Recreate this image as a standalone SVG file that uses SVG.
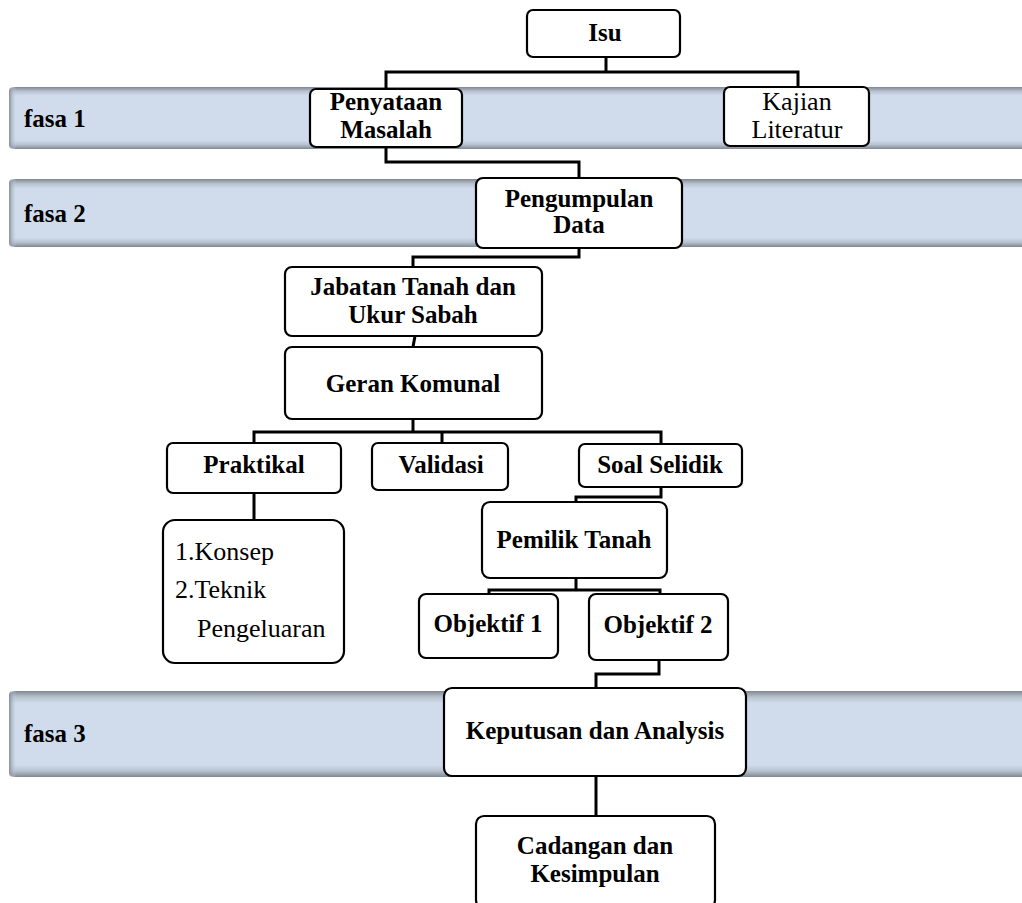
<svg xmlns="http://www.w3.org/2000/svg" width="1022" height="903" viewBox="0 0 1022 903">
<defs>
<linearGradient id="bandV" x1="0" y1="0" x2="0" y2="1">
<stop offset="0" stop-color="#7f8792"/>
<stop offset="0.07" stop-color="#b8c2cf"/>
<stop offset="0.14" stop-color="#d0dcec"/>
<stop offset="0.86" stop-color="#d0dcec"/>
<stop offset="0.93" stop-color="#b8c2cf"/>
<stop offset="1" stop-color="#7f8792"/>
</linearGradient>
<linearGradient id="bandH" x1="0" y1="0" x2="1" y2="0">
<stop offset="0" stop-color="#7f8792" stop-opacity="0.9"/>
<stop offset="1" stop-color="#d0dcec" stop-opacity="0"/>
</linearGradient>
<style>
.box{fill:#ffffff;stroke:#000000;stroke-width:2.2}
.conn{fill:none;stroke:#000000;stroke-width:3;stroke-linejoin:miter}
.b{font-family:"Liberation Serif","Times New Roman",serif;font-weight:bold;font-size:25px;fill:#000;text-anchor:middle}
.r{font-family:"Liberation Serif","Times New Roman",serif;font-size:26px;fill:#000}
.rc{text-anchor:middle}
.lbl{font-family:"Liberation Serif","Times New Roman",serif;font-weight:bold;font-size:25px;fill:#000}
</style>
</defs>

<g id="bands">
<g id="band1">
<rect x="9" y="87" width="1030" height="62" rx="6" fill="url(#bandV)"/>
<rect x="9" y="87" width="8" height="62" rx="4" fill="url(#bandH)"/>
<text class="lbl" x="24" y="127">fasa 1</text>
</g>
<g id="band2">
<rect x="9" y="179" width="1030" height="68" rx="6" fill="url(#bandV)"/>
<rect x="9" y="179" width="8" height="68" rx="4" fill="url(#bandH)"/>
<text class="lbl" x="24" y="222">fasa 2</text>
</g>
<g id="band3">
<rect x="9" y="691" width="1030" height="86" rx="6" fill="url(#bandV)"/>
<rect x="9" y="691" width="8" height="86" rx="4" fill="url(#bandH)"/>
<text class="lbl" x="24" y="742">fasa 3</text>
</g>
</g>

<g id="connectors">
<polyline class="conn" points="606,57 606,72"/>
<polyline class="conn" points="386,89 386,72 798,72 798,87"/>
<polyline class="conn" points="386,147 386,162 579,162 579,178"/>
<polyline class="conn" points="579,248 579,257 413,257 413,267"/>
<polyline class="conn" points="415,336 413,347"/>
<polyline class="conn" points="413,419 413,432"/>
<polyline class="conn" points="254,443 254,432 661,432 661,444"/>
<polyline class="conn" points="442,432 442,443"/>
<polyline class="conn" points="254,493 254,520"/>
<polyline class="conn" points="661,487 661,497 576,497 576,502"/>
<polyline class="conn" points="576,578 576,590"/>
<polyline class="conn" points="489,594 489,590 660,590 660,594"/>
<polyline class="conn" points="659,660 659,674 596,674 596,688"/>
<polyline class="conn" points="596,776 596,816"/>
</g>

<g id="isu">
<rect class="box" x="527" y="10" width="153" height="47" rx="6"/>
<text class="b" x="605" y="41">Isu</text>
</g>
<g id="penyataan">
<rect class="box" x="310" y="89" width="152" height="58" rx="6"/>
<text class="b" x="386" y="110">Penyataan</text>
<text class="b" x="386" y="138">Masalah</text>
</g>
<g id="kajian">
<rect class="box" x="724" y="87" width="145" height="59" rx="6"/>
<text class="r rc" x="797" y="110">Kajian</text>
<text class="r rc" x="797" y="138">Literatur</text>
</g>
<g id="pengumpulan">
<rect class="box" x="476" y="178" width="206" height="70" rx="7"/>
<text class="b" x="579" y="207">Pengumpulan</text>
<text class="b" x="579" y="233">Data</text>
</g>
<g id="jabatan">
<rect class="box" x="285" y="267" width="257" height="69" rx="7"/>
<text class="b" x="413" y="295">Jabatan Tanah dan</text>
<text class="b" x="413" y="323">Ukur Sabah</text>
</g>
<g id="geran">
<rect class="box" x="285" y="347" width="257" height="72" rx="7"/>
<text class="b" x="413" y="392">Geran Komunal</text>
</g>
<g id="praktikal">
<rect class="box" x="167" y="443" width="174" height="50" rx="6"/>
<text class="b" x="254" y="473">Praktikal</text>
</g>
<g id="validasi">
<rect class="box" x="372" y="443" width="136" height="47" rx="6"/>
<text class="b" x="441" y="473">Validasi</text>
</g>
<g id="soal">
<rect class="box" x="579" y="444" width="163" height="43" rx="6"/>
<text class="b" x="660" y="473">Soal Selidik</text>
</g>
<g id="konsep">
<rect class="box" x="163" y="520" width="181" height="143" rx="12"/>
<text class="r" x="175" y="560">1.Konsep</text>
<text class="r" x="175" y="598">2.Teknik</text>
<text class="r" x="197" y="637">Pengeluaran</text>
</g>
<g id="pemilik">
<rect class="box" x="482" y="502" width="185" height="76" rx="8"/>
<text class="b" x="574" y="548">Pemilik Tanah</text>
</g>
<g id="objektif1">
<rect class="box" x="419" y="594" width="139" height="64" rx="7"/>
<text class="b" x="488" y="632">Objektif 1</text>
</g>
<g id="objektif2">
<rect class="box" x="589" y="594" width="139" height="66" rx="7"/>
<text class="b" x="658" y="633">Objektif 2</text>
</g>
<g id="keputusan">
<rect class="box" x="444" y="688" width="302" height="88" rx="8"/>
<text class="b" x="595" y="739">Keputusan dan Analysis</text>
</g>
<g id="cadangan">
<rect class="box" x="476" y="816" width="239" height="92" rx="8"/>
<text class="b" x="595" y="854">Cadangan dan</text>
<text class="b" x="595" y="882">Kesimpulan</text>
</g>
</svg>
